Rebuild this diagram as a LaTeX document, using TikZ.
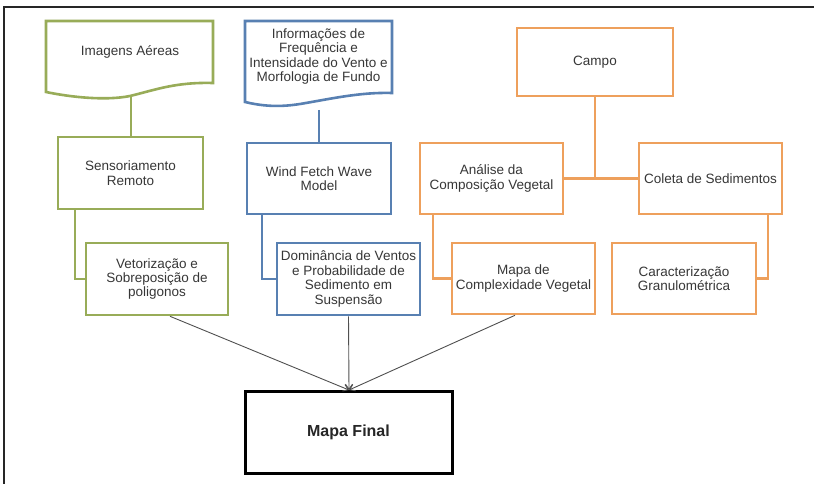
\documentclass[tikz,border=0pt]{standalone}
\usepackage{fontspec}
\setmainfont{Liberation Sans}
\usetikzlibrary{arrows.meta}
\definecolor{gcol}{RGB}{152,172,88}
\definecolor{bcol}{RGB}{88,128,178}
\definecolor{ocol}{RGB}{238,160,92}
\definecolor{tcol}{RGB}{55,55,55}
\definecolor{acol}{RGB}{80,80,80}
\tikzset{
  txt/.style={font=\fontsize{13.5}{14.4}\selectfont, text=tcol, align=center, inner sep=0pt},
  bx/.style={txt, draw, line width=2.6pt, minimum width=143pt, minimum height=71pt, fill=white},
  gbox/.style={bx, draw=gcol},
  bbox/.style={bx, draw=bcol},
  obox/.style={bx, draw=ocol},
  gline/.style={gcol, line width=2.6pt},
  bline/.style={bcol, line width=2.6pt},
  oline/.style={ocol, line width=2.6pt},
  arr/.style={acol, line width=0.9pt, -{Straight Barb[length=5pt,width=7pt]}},
  finalbox/.style={draw=black, line width=3pt, minimum width=207pt, minimum height=82pt, font=\fontsize{16}{18}\selectfont\bfseries, text=black!85, inner sep=0pt}
}
\begin{document}
\begin{tikzpicture}[x=1pt,y=-1pt]
\useasboundingbox[fill=white] (0,0) rectangle (814,484);
% frame
\draw[line width=1.3pt, black!85] (4,484) -- (4,7) -- (814,7);

% green column
\draw[gline, fill=white] (46,92) -- (46,21) -- (213,21) -- (213,83)
  .. controls (175,82) and (155,90) .. (130,96)
  .. controls (105,101) and (70,97) .. (46,92) -- cycle;
\node[txt] (imgA) at (130,52) {Imagens Aéreas};
\coordinate (imgAb) at (131,97);
\node[gbox, minimum width=145pt, minimum height=72pt] (sens) at (130.5,173) {Sensoriamento\\Remoto};
\node[gbox, minimum width=142pt, minimum height=72pt] (vet) at (157,279) {Vetorização e\\Sobreposição de\\poligonos};
\draw[gline] (imgAb) -- (imgAb |- sens.north);
\draw[gline] ([xshift=-55.5pt]sens.south) |- (vet.west);

% blue column
\draw[bline, fill=white] (245,102) -- (245,21) -- (392,21) -- (392,93)
  .. controls (360,92) and (330,99) .. (300,104)
  .. controls (275,108) and (258,105) .. (245,102) -- cycle;
\node[txt] (info) at (318.5,56.5) {Informações de\\Frequência e\\Intensidade do Vento e\\Morfologia de Fundo};
\coordinate (infob) at (319,110);
\node[bbox, minimum width=144pt] (wind) at (319,178.5) {Wind Fetch Wave\\Model};
\node[bbox, minimum height=72pt] (dom) at (348.5,279) {Dominância de Ventos\\e Probabilidade de\\Sedimento em\\Suspensão};
\draw[bline] (infob) -- (infob |- wind.north);
\draw[bline] ([xshift=-57pt]wind.south) |- (dom.west);

% orange group
\node[obox, minimum width=156pt, minimum height=68pt] (campo) at (595,62) {Campo};
\node[obox] (ana) at (491.5,178.5) {Análise da\\Composição Vegetal};
\node[obox] (col) at (710.5,178.5) {Coleta de Sedimentos};
\node[obox] (mapc) at (523.5,278.5) {Mapa de\\Complexidade Vegetal};
\node[obox, minimum width=144pt] (car) at (684,278.5) {Caracterização\\Granulométrica};
\draw[oline] (ana.east) -- (col.west);
\draw[oline] (campo.south) -- (campo.south |- ana.east);
\draw[oline] ([xshift=-58.5pt]ana.south) |- (mapc.west);
\draw[oline] ([xshift=57.5pt]col.south) |- (car.east);

% final
\node[finalbox] (final) at (348.5,432) {Mapa Final};
\coordinate (tip) at (349,390);
\draw[arr] ([xshift=13pt]vet.south) -- (tip);
\draw[arr] (dom.south) -- (tip);
\draw[arr] ([xshift=-8.5pt]mapc.south) -- (tip);
\end{tikzpicture}
\end{document}
